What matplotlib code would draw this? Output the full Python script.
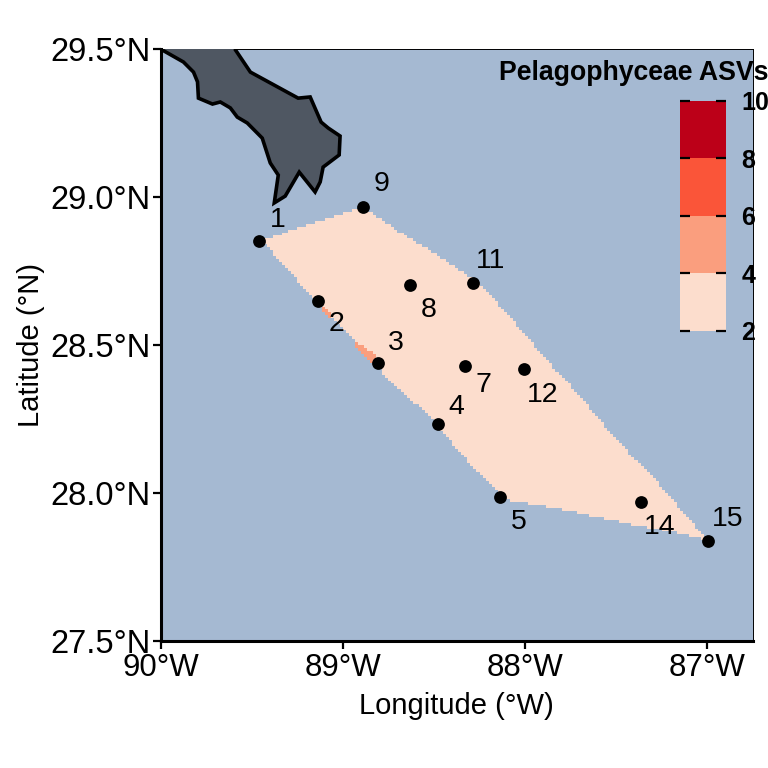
import matplotlib
matplotlib.use("Agg")
import matplotlib.pyplot as plt
from matplotlib.colors import ListedColormap, BoundaryNorm
from matplotlib.cm import ScalarMappable
from matplotlib.path import Path
import numpy as np

plt.rcParams["font.family"] = ["Liberation Sans", "DejaVu Sans"]

station_names = ["1", "2", "3", "4", "5", "7", "8", "9", "11", "12", "14", "15"]
station_lon = [-89.458, -89.135, -88.807, -88.478, -88.139, -88.331, -88.632, -88.889, -88.287, -88.008, -87.367, -86.995]
station_lat = [28.851, 28.649, 28.439, 28.233, 27.986, 28.429, 28.703, 28.966, 28.709, 28.419, 27.970, 27.838]
label_dx = [18, 18, 18, 18, 19, 19, 19, 19, 18, 19, 19, 19]
label_dy = [21, -23, 20, 17, -25, -19, -25, 23, 22, -26, -25, 22]

land_lon = [-90.05, -90.0, -89.874, -89.819, -89.797, -89.792, -89.715, -89.672, -89.617, -89.579, -89.524,
            -89.442, -89.398, -89.354, -89.376, -89.316, -89.239, -89.152, -89.124, -89.108, -89.020, -89.015,
            -89.080, -89.119, -89.179, -89.245, -89.507, -89.589, -89.56, -90.05]
land_lat = [29.52, 29.50, 29.456, 29.422, 29.389, 29.334, 29.314, 29.321, 29.301, 29.270, 29.250,
            29.199, 29.115, 29.074, 28.980, 29.003, 29.084, 29.017, 29.051, 29.101, 29.142, 29.206,
            29.233, 29.253, 29.338, 29.334, 29.422, 29.497, 29.56, 29.56]

# outline of the interpolated area and the two slivers in the next class up
hull_lon = [-89.458, -89.195, -88.889, -88.703, -88.248, -87.493, -87.302, -87.044, -86.995, -87.170, -87.520,
            -87.865, -88.101, -88.248, -88.506, -88.703, -88.834, -88.976, -89.135, -89.234, -89.414]
hull_lat = [28.851, 28.905, 28.966, 28.889, 28.709, 28.179, 28.054, 27.875, 27.838, 27.865, 27.909,
            27.953, 27.976, 28.061, 28.247, 28.358, 28.443, 28.541, 28.642, 28.709, 28.831]
sliver_a_lon = [-89.124, -89.069, -89.064, -89.113]
sliver_a_lat = [28.632, 28.608, 28.581, 28.615]
sliver_b_lon = [-88.944, -88.894, -88.823, -88.818, -88.861]
sliver_b_lat = [28.507, 28.503, 28.466, 28.436, 28.449]

class_edges = [2, 4, 6, 8, 10]
class_colors = ["#FCDDCD", "#FA9E7E", "#FA5539", "#BC0018"]
sea_color = "#A5B9D2"
land_color = "#4F5762"

x_ticks = [-90, -89, -88, -87]
x_tick_labels = ["90°W", "89°W", "88°W", "87°W"]
y_ticks = [27.5, 28.0, 28.5, 29.0, 29.5]
y_tick_labels = ["27.5°N", "28.0°N", "28.5°N", "29.0°N", "29.5°N"]

fig = plt.figure(figsize=(7.68, 7.68), dpi=100)
ax = fig.add_axes([160.5 / 768, 1 - 641 / 768, (753 - 160.5) / 768, (641 - 49) / 768])
ax.set_facecolor(sea_color)

cmap = ListedColormap(class_colors)
norm = BoundaryNorm(class_edges, cmap.N)

# raster of ASV classes on the same coarse grid as the krige
lon_edges = np.arange(-90, -86.74, 1 / 60)
lat_edges = np.arange(27.5, 29.501, 0.01)
lon_mid = (lon_edges[:-1] + lon_edges[1:]) / 2
lat_mid = (lat_edges[:-1] + lat_edges[1:]) / 2
grid_lon, grid_lat = np.meshgrid(lon_mid, lat_mid)
cells = np.column_stack([grid_lon.ravel(), grid_lat.ravel()])

grid = np.full(grid_lon.size, np.nan)
grid[Path(np.column_stack([hull_lon, hull_lat])).contains_points(cells)] = 3
grid[Path(np.column_stack([sliver_a_lon, sliver_a_lat])).contains_points(cells)] = 5
grid[Path(np.column_stack([sliver_b_lon, sliver_b_lat])).contains_points(cells)] = 5
ax.pcolormesh(lon_edges, lat_edges, grid.reshape(grid_lon.shape), cmap=cmap, norm=norm, rasterized=True)

ax.fill(land_lon, land_lat, facecolor=land_color, edgecolor="black", linewidth=2.6, zorder=3)

ax.plot(station_lon, station_lat, "o", color="black", markersize=9.2, markeredgewidth=0, zorder=4)
for i in range(len(station_names)):
    ax.annotate(station_names[i], (station_lon[i], station_lat[i]),
                xytext=(label_dx[i] * 0.72, label_dy[i] * 0.72), textcoords="offset points",
                ha="center", va="center", fontsize=20.5, color="black", zorder=5)

ax.set_xlim(-90, -86.75)
ax.set_ylim(27.5, 29.5)
ax.set_xticks(x_ticks)
ax.set_xticklabels(x_tick_labels)
ax.set_yticks(y_ticks)
ax.set_yticklabels(y_tick_labels)
ax.tick_params(axis="x", labelsize=22.5, length=5.5, width=1.6, pad=3.5, color="black")
ax.tick_params(axis="y", labelsize=23.5, length=5.5, width=1.6, pad=1.5, color="black")
ax.set_xlabel("Longitude (°W)", fontsize=21, labelpad=6)
ax.set_ylabel("Latitude (°N)", fontsize=21, labelpad=4)

for side in ["left", "bottom"]:
    ax.spines[side].set_linewidth(2.2)
for side in ["top", "right"]:
    ax.spines[side].set_linewidth(0.7)

# legend sits inside the panel
cax = fig.add_axes([680 / 768, 1 - 331 / 768, 46 / 768, 230 / 768], zorder=6)
cb = fig.colorbar(ScalarMappable(norm=norm, cmap=cmap), cax=cax, ticks=class_edges, spacing="proportional")
cb.outline.set_visible(False)
cax.tick_params(axis="y", direction="in", left=True, right=True, length=7, width=1.6, labelsize=18, pad=11)
for lab in cax.get_yticklabels():
    lab.set_fontweight("bold")
fig.text(499 / 768, 1 - 73.5 / 768, "Pelagophyceae ASVs", fontsize=19.2, fontweight="bold", va="center", ha="left")

plt.savefig("out.png", dpi=100)
plt.close()
